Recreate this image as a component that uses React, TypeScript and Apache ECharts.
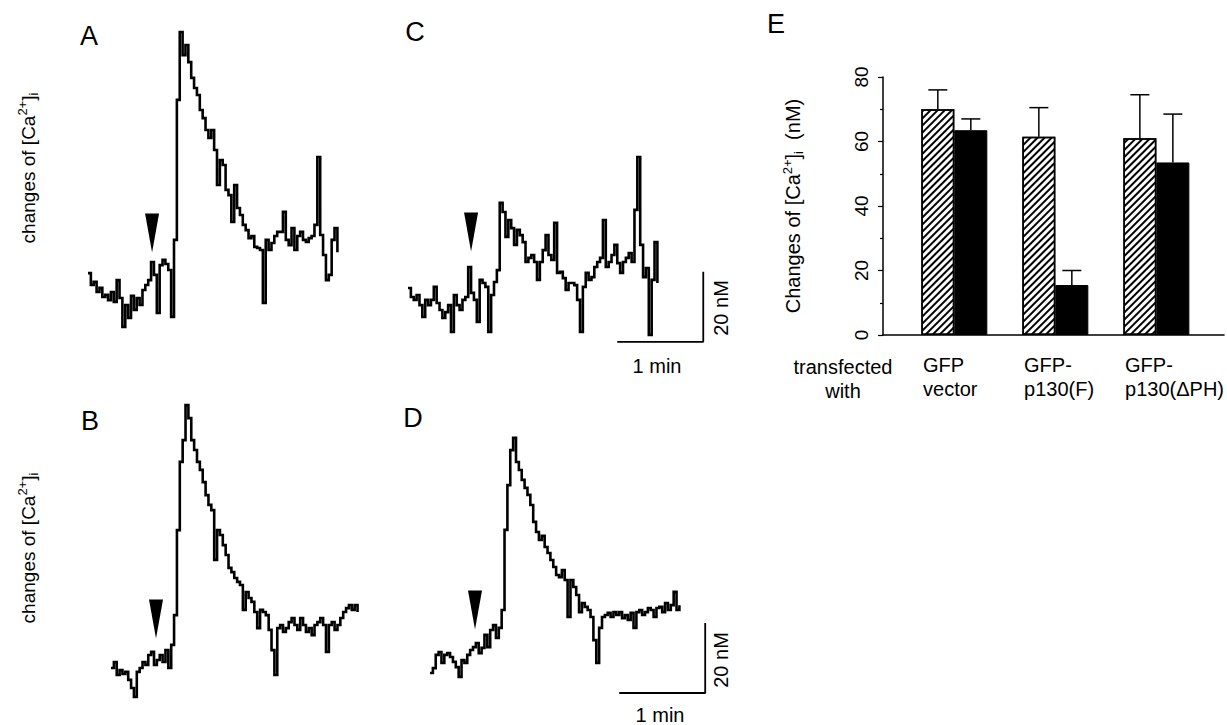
import React, { useEffect, useRef } from "react";
import * as echarts from "echarts";

const FONT = '"Liberation Sans", Arial, Helvetica, sans-serif';

// sampling interval of the traces (s)
const DT = 2;

// [Ca2+]i changes (nM), one sample every 2 s
const traceA = [19.1, 15.7, 16.6, 13.7, 14.9, 12.3, 12.9, 11.4, 13.7, 10.9, 17.1, 12, 3.7, 10, 6.3, 12.6, 8.6, 12, 10, 14.3, 15.7, 17.1, 22.3, 18.6, 7.7, 21.4, 22.9, 21.7, 20, 6.6, 28.6, 68.6, 88, 81.4, 84.3, 79.4, 74.9, 72, 70, 65.7, 63.4, 60, 57.7, 60, 54.3, 44.3, 51.4, 50, 42.9, 41.4, 33.7, 44.3, 37.7, 35.7, 32.9, 31.4, 29.1, 29.7, 26.6, 26.3, 25.7, 10.6, 28.6, 25.7, 27.7, 29.7, 30.9, 30.9, 36.6, 28.6, 27.1, 32, 25.7, 29.7, 30.9, 28.6, 28, 29.1, 29.7, 32.9, 52.3, 30, 24.3, 17.1, 18.6, 28.6, 32, 25.1];
const traceB = [12, 13.7, 10, 11.4, 10.3, 10.9, 8.6, 6.3, 3.7, 10.9, 12, 13.7, 12.9, 15.7, 16.6, 12.9, 14.3, 15.7, 13.7, 17.1, 12, 18.6, 27.1, 51.4, 70.9, 77.1, 87.1, 83.4, 77.1, 74.3, 70.9, 68.6, 65.1, 61.4, 58.6, 57.1, 42.9, 51.4, 50, 47.1, 44.3, 40.6, 39.4, 37.7, 36.6, 35.7, 28.6, 33.7, 32, 30.9, 28, 23.4, 28.6, 28, 27.1, 22.9, 17.1, 10, 23.4, 24.3, 22.3, 23.4, 25.1, 26.3, 24.3, 22.9, 26.3, 24.3, 22.3, 23.4, 21.4, 24.3, 25.1, 26.3, 24.3, 16.6, 24.3, 25.1, 22.9, 24.3, 26.3, 28, 29.1, 30, 28.6, 30, 28];
const traceC = [16.3, 13.7, 12.9, 14.3, 11.4, 8, 12.9, 11.4, 12.9, 16.6, 12, 10, 7.7, 9.4, 11.4, 3.7, 14.3, 11.4, 10, 12.9, 13.7, 22.3, 14.9, 12.9, 6.6, 18.6, 17.7, 16.6, 3.7, 14.3, 18, 21.4, 40.6, 38, 30.9, 35.7, 33.4, 28.6, 32.9, 31.4, 29.4, 23.7, 24.9, 25.7, 23.7, 18.6, 23.7, 27.1, 31.4, 25.7, 24.3, 34.9, 20.6, 20.9, 19.1, 15.7, 17.7, 17.7, 17.1, 12.9, 3.7, 16.6, 20.6, 18.6, 19.4, 22.3, 23.7, 24.9, 35.7, 22.3, 23.7, 25.7, 28.6, 23.4, 20.6, 23.7, 24.9, 26.3, 23.7, 38.6, 53.7, 28.6, 19.4, 22, 2.9, 18.6, 29.4, 17.7];
const traceD = [7.7, 9.1, 12.9, 13.7, 10.6, 12.9, 13.4, 12.3, 10.9, 9.4, 6.6, 11.4, 10.6, 12.9, 14.3, 15.1, 16.3, 13.4, 14.9, 18.6, 15.1, 20, 21.4, 17.7, 20.6, 25.7, 48.6, 61.4, 71.4, 74.9, 68, 65.7, 62.9, 60.6, 58.6, 55.7, 50.9, 48, 45.7, 46.9, 43.7, 42, 40, 38, 35.7, 35.1, 37.1, 34.3, 23.7, 34.3, 32.3, 30, 25.1, 27.7, 26.6, 25.7, 23.7, 17.1, 10.6, 20.6, 23.7, 24.3, 24.9, 23.7, 25.1, 24.3, 25.1, 23.4, 24.3, 22.9, 24.9, 20.6, 25.1, 25.7, 24.3, 25.1, 26.3, 25.7, 23.7, 26.3, 26.6, 25.1, 27.7, 25.7, 27.1, 30.9, 25.7, 27.1];

// stimulus arrowheads: time (s) and level (nM) of each arrow
const arrowT = [44.7, 31.4, 44, 31.4];
const arrowV = [30.6, 26, 32.3, 25.7];

// scale bars (C and D): 1 min, 20 nM
const scaleMin = 60;
const scaleNM = 20;
const scaleCorner = [[206, 0.9], [192, 2]]; // [C, D] corner in (s, nM)

// panel E
const groups = ["GFP\nvector", "GFP-\np130(F)", "GFP-\np130(\u0394PH)"];
const meanHatched = [70, 61.5, 61];
const errHatched = [6, 9, 13.5];
const meanBlack = [63.5, 15.5, 53.5];
const errBlack = [3.5, 4.5, 15];
const eTicks = [0, 80, 20];

const BAR_W = 33;

const supRich = {
  a: { fontSize: 19, fontFamily: FONT, color: "#000", lineHeight: 24, verticalAlign: "middle" },
  sup: { fontSize: 13, fontFamily: FONT, color: "#000", lineHeight: 24, verticalAlign: "top" },
  sub: { fontSize: 13, fontFamily: FONT, color: "#000", lineHeight: 24, verticalAlign: "bottom" },
};

function traceGrid(left: number, top: number, xmax: number) {
  return { left, top, width: xmax * (86 / 60), height: 90 * 3.5, containLabel: false };
}

function traceSeries(idx: number, values: number[]) {
  const s: any[] = [
    {
      type: "line",
      xAxisIndex: idx,
      yAxisIndex: idx,
      data: values.map((v, i) => [i * DT, v]),
      showSymbol: false,
      step: "end",
      silent: true,
      lineStyle: { color: "#000", width: 2.6, join: "miter" },
      z: 3,
    },
    {
      type: "scatter",
      xAxisIndex: idx,
      yAxisIndex: idx,
      data: [[arrowT[idx], arrowV[idx]]],
      symbol: "path://M0 0L10 0L5 28Z",
      symbolSize: [14, 39],
      itemStyle: { color: "#000", opacity: 1 },
      silent: true,
    },
  ];
  if (idx >= 2) {
    const [cx, cy] = scaleCorner[idx - 2];
    s.push({
      type: "line",
      xAxisIndex: idx,
      yAxisIndex: idx,
      data: [[cx - scaleMin, cy], [cx, cy], [cx, cy + scaleNM]],
      showSymbol: false,
      silent: true,
      lineStyle: { color: "#000", width: 1.8 },
    });
  }
  return s;
}

function errorSeries(means: number[], errs: number[], side: number) {
  return {
    type: "custom",
    xAxisIndex: 4,
    yAxisIndex: 4,
    silent: true,
    z: 1,
    encode: { x: 0, y: [1, 2] },
    data: means.map((m, i) => [i, m, m + errs[i]]),
    renderItem: (_p: any, api: any) => {
      const base = api.coord([api.value(0), api.value(1)]);
      const top = api.coord([api.value(0), api.value(2)]);
      const cx = base[0] + (side * BAR_W) / 2;
      return {
        type: "group",
        children: [
          { type: "line", shape: { x1: cx, y1: base[1], x2: cx, y2: top[1] }, style: { stroke: "#000", lineWidth: 1.5 } },
          { type: "line", shape: { x1: cx - 9.5, y1: top[1], x2: cx + 9.5, y2: top[1] }, style: { stroke: "#000", lineWidth: 1.5 } },
        ],
      };
    },
  };
}

function txt(text: string, x: number, y: number, fontSize: number, extra: any = {}) {
  return {
    type: "text",
    x,
    y,
    silent: true,
    style: { text, fontSize, fontFamily: FONT, fill: "#000", align: "center", verticalAlign: "middle", ...extra },
  };
}

function caLabel(x: number, y: number) {
  return {
    type: "text",
    x,
    y,
    rotation: Math.PI / 2,
    silent: true,
    style: {
      text: "{a|changes of [Ca}{sup|2+}{a|]}{sub|i}",
      rich: supRich,
      align: "center",
      verticalAlign: "middle",
      fontFamily: FONT,
    },
  };
}

export default function App() {
  const ref = useRef<HTMLDivElement>(null);
  useEffect(() => {
    if (!ref.current) return;
    const chart = echarts.init(ref.current, null, { renderer: "svg" });
    const hidden = { show: false };
    const traceAxisX = (g: number, max: number) => ({ type: "value", gridIndex: g, min: 0, max, ...hidden });
    const traceAxisY = (g: number) => ({ type: "value", gridIndex: g, min: 0, max: 90, ...hidden });
    const option: any = {
      animation: false,
      backgroundColor: "#fff",
      textStyle: { fontFamily: FONT },
      grid: [
        traceGrid(88, 25, 180),
        traceGrid(111, 395, 180),
        traceGrid(408, 30, 210),
        traceGrid(430, 385, 200),
        { left: 883, top: 77, width: 342, height: 258 },
      ],
      xAxis: [
        traceAxisX(0, 180),
        traceAxisX(1, 180),
        traceAxisX(2, 210),
        traceAxisX(3, 200),
        {
          type: "value",
          gridIndex: 4,
          min: -0.706,
          max: 2.67,
          splitLine: { show: false },
          axisTick: { show: false },
          axisLine: { show: true, onZero: false, lineStyle: { color: "#000", width: 1.5 } },
          axisLabel: {
            show: true,
            customValues: groups.map((_, i) => i - 0.31),
            formatter: (v: number) => groups[Math.round(v + 0.31)] ?? "",
            align: "left",
            verticalAlign: "top",
            fontSize: 20,
            lineHeight: 24,
            color: "#000",
            margin: 18,
            fontFamily: FONT,
          },
        },
      ],
      yAxis: [
        traceAxisY(0),
        traceAxisY(1),
        traceAxisY(2),
        traceAxisY(3),
        {
          type: "value",
          gridIndex: 4,
          min: eTicks[0],
          max: eTicks[1],
          interval: eTicks[2],
          splitLine: { show: false },
          axisLine: { show: true, onZero: false, lineStyle: { color: "#000", width: 1.5 } },
          axisTick: { show: true, length: 5, lineStyle: { color: "#000", width: 1.2 } },
          minorTick: { show: true, splitNumber: 2, length: 3, lineStyle: { color: "#000", width: 1.2 } },
          minorSplitLine: { show: false },
          axisLabel: { rotate: 90, fontSize: 19, color: "#000", margin: 12, fontFamily: FONT },
          name: "{a|Changes of [Ca}{sup|2+}{a|]}{sub|i}{a|  (nM)}",
          nameLocation: "middle",
          nameRotate: 90,
          nameGap: 78,
          nameTextStyle: { rich: { ...supRich, a: { ...supRich.a, fontSize: 20 } } },
        },
      ],
      series: [
        ...traceSeries(0, traceA),
        ...traceSeries(1, traceB),
        ...traceSeries(2, traceC),
        ...traceSeries(3, traceD),
        {
          type: "bar",
          xAxisIndex: 4,
          yAxisIndex: 4,
          data: meanHatched.map((v, i) => [i, v]),
          barWidth: BAR_W,
          barGap: "0%",
          silent: true,
          z: 2,
          itemStyle: {
            color: "#fff",
            borderColor: "#000",
            borderWidth: 1.5,
            decal: {
              symbol: "rect",
              symbolSize: 1,
              color: "#000",
              dashArrayX: [1, 0],
              dashArrayY: [1.1, 3],
              rotation: -Math.PI / 4,
            },
          },
        },
        {
          type: "bar",
          xAxisIndex: 4,
          yAxisIndex: 4,
          data: meanBlack.map((v, i) => [i, v]),
          barWidth: BAR_W,
          barGap: "0%",
          silent: true,
          z: 2,
          itemStyle: { color: "#000", borderColor: "#000", borderWidth: 1 },
        },
        errorSeries(meanHatched, errHatched, -1),
        errorSeries(meanBlack, errBlack, 1),
      ],
      graphic: [
        txt("A", 89, 36, 27),
        txt("B", 90, 421, 27),
        txt("C", 415, 32, 27),
        txt("D", 413, 418, 27),
        txt("E", 776, 24, 27),
        caLabel(28, 168),
        caLabel(28, 548),
        txt("1 min", 657, 366, 20),
        txt("1 min", 660, 715, 20),
        { ...txt("20 nM", 721, 308, 20), rotation: Math.PI / 2 },
        { ...txt("20 nM", 721, 660, 20), rotation: Math.PI / 2 },
        txt("transfected\nwith", 843, 355, 20, { verticalAlign: "top", lineHeight: 24 }),
      ],
    };
    chart.setOption(option);
    return () => chart.dispose();
  }, []);
  return (
    <div
      ref={ref}
      style={{ position: "fixed", left: 0, top: 0, width: 1227, height: 725, background: "#fff" }}
    />
  );
}
